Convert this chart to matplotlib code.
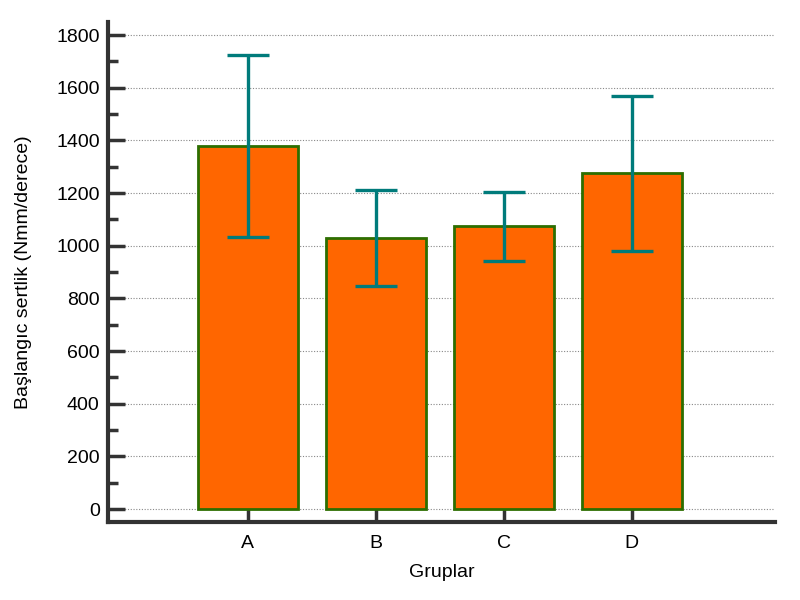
import numpy as np
import matplotlib.pyplot as plt
from matplotlib.ticker import MultipleLocator

plt.rcParams['font.family'] = ['Liberation Sans', 'DejaVu Sans']

# data
groups = ['A', 'B', 'C', 'D']
means = [1378, 1029, 1075, 1276]
errors = [345, 181, 131, 294]

fig = plt.figure(figsize=(8, 6), dpi=100)
ax = fig.add_axes([0.135, 0.13, 0.834, 0.833])

x = np.arange(len(groups))
ax.bar(x, means, width=0.78, color='#FF6600', edgecolor='#2D6E00', linewidth=2, zorder=2)
ax.errorbar(x, means, yerr=errors, fmt='none', ecolor='#007B7B', elinewidth=2.4,
            capsize=15, capthick=2.4, zorder=3)

ax.set_xlim(-1.09, 4.12)
ax.set_ylim(-49, 1849)
ax.set_xticks(x)
ax.set_xticklabels(groups)
ax.yaxis.set_major_locator(MultipleLocator(200))
ax.yaxis.set_minor_locator(MultipleLocator(100))

ax.grid(axis='y', which='major', linestyle=(0, (1, 1.5)), color='#888888', linewidth=0.8, zorder=0)
ax.set_axisbelow(True)

for side in ['top', 'right']:
    ax.spines[side].set_visible(False)
for side in ['left', 'bottom']:
    ax.spines[side].set_linewidth(3)
    ax.spines[side].set_color('#333333')

ax.tick_params(axis='y', which='major', direction='in', length=12, width=2.5, color='#333333',
               labelsize=14, pad=6)
ax.tick_params(axis='y', which='minor', direction='in', length=7, width=2.5, color='#333333')
ax.tick_params(axis='x', which='major', direction='in', length=12, width=2.5, color='#333333',
               labelsize=14, pad=9)

ax.set_xlabel('Gruplar', fontsize=14, labelpad=9)
ax.set_ylabel('Başlangıc sertlik (Nmm/derece)', fontsize=14, labelpad=17)

fig.savefig('out.png', dpi=100)
